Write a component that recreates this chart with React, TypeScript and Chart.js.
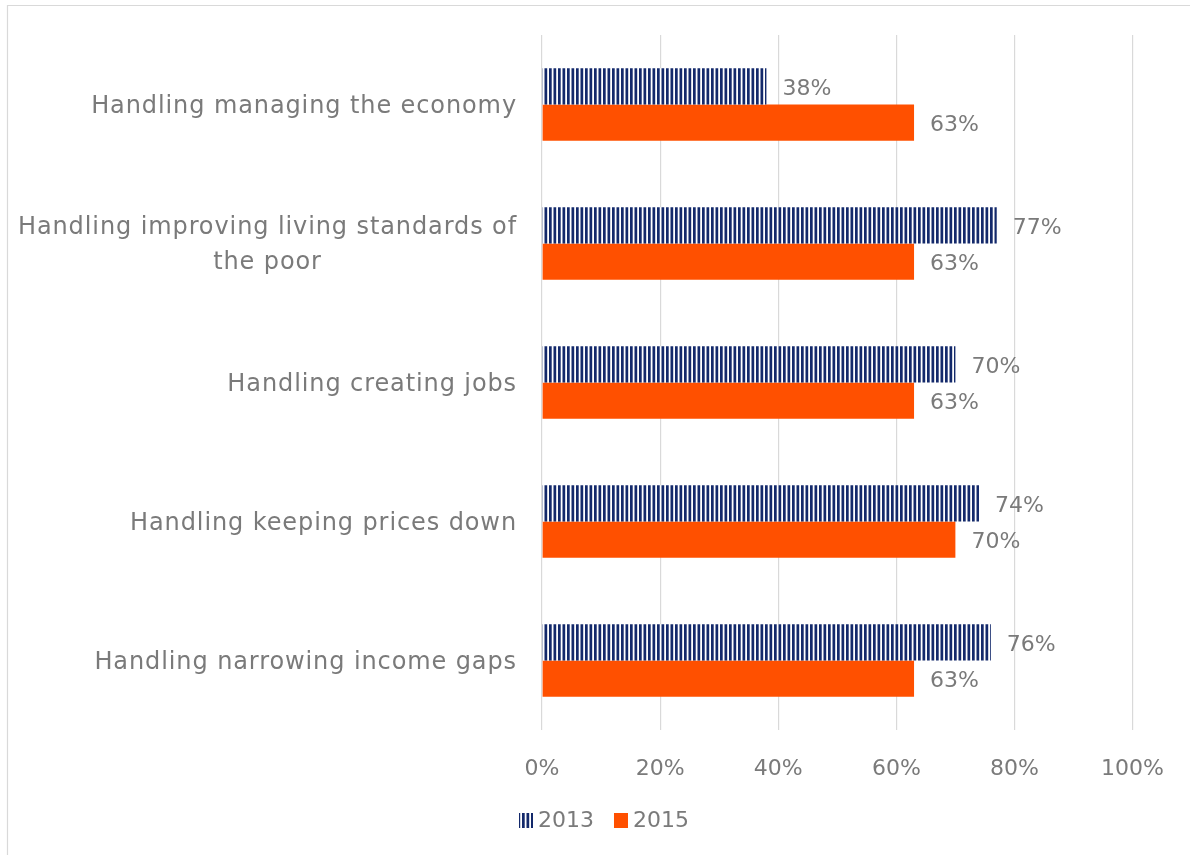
import React, { useEffect, useRef } from 'react';
import { Chart, registerables } from 'chart.js';

Chart.register(...registerables);

const categories: string[][] = [
  ['Handling managing the economy'],
  ['Handling improving living standards of', 'the poor'],
  ['Handling creating jobs'],
  ['Handling keeping prices down'],
  ['Handling narrowing income gaps'],
];
const seriesNames = ['2013', '2015'];
const values2013 = [38, 77, 70, 74, 76];
const values2015 = [63, 63, 63, 70, 63];
const xMin = 0;
const xMax = 100;
const xStep = 20;

const NAVY = '#13296b';
const ORANGE = '#FF5000';
const TEXT = '#7a7a7a';
const GRID = '#d9d9d9';
const FONT = '"DejaVu Sans", sans-serif';

function stripePattern(ctx: CanvasRenderingContext2D): CanvasPattern | string {
  const c = document.createElement('canvas');
  c.width = 9;
  c.height = 9;
  const g = c.getContext('2d');
  if (!g) return NAVY;
  g.fillStyle = '#ffffff';
  g.fillRect(0, 0, 9, 9);
  g.fillStyle = NAVY;
  g.fillRect(0, 0, 2.7, 9);
  g.fillRect(4.5, 0, 2.7, 9);
  return ctx.createPattern(c, 'repeat') || NAVY;
}

export default function App() {
  const ref = useRef<HTMLCanvasElement | null>(null);

  useEffect(() => {
    const canvas = ref.current;
    if (!canvas) return;
    const ctx = canvas.getContext('2d');
    if (!ctx) return;
    const pattern = stripePattern(ctx);

    const borderPlugin = {
      id: 'frame',
      beforeDraw(chart: any) {
        const c = chart.ctx;
        c.save();
        c.fillStyle = '#ffffff';
        c.fillRect(0, 0, chart.width, chart.height);
        c.strokeStyle = GRID;
        c.lineWidth = 1.2;
        c.beginPath();
        c.moveTo(7.5, chart.height + 5);
        c.lineTo(7.5, 5.5);
        c.lineTo(chart.width + 5, 5.5);
        c.stroke();
        c.restore();
      },
    };

    const yLabelsPlugin = {
      id: 'yLabels',
      afterDraw(chart: any) {
        const c = chart.ctx;
        const ys = chart.scales.y;
        const right = chart.chartArea.left - 25;
        c.save();
        c.font = `24px ${FONT}`;
        (c as any).letterSpacing = '0.9px';
        c.fillStyle = TEXT;
        c.textBaseline = 'middle';
        categories.forEach((lines, i) => {
          const cy = ys.getPixelForValue(i) + 2;
          const lh = 35;
          const widths = lines.map((l) => c.measureText(l).width);
          const maxW = Math.max(...widths);
          const center = right - maxW / 2;
          lines.forEach((line, j) => {
            const y = cy + (j - (lines.length - 1) / 2) * lh;
            c.textAlign = 'center';
            c.fillText(line, center, y);
          });
        });
        c.restore();
      },
    };

    const dataLabelsPlugin = {
      id: 'dataLabels',
      afterDatasetsDraw(chart: any) {
        const c = chart.ctx;
        c.save();
        c.font = `22px ${FONT}`;
        c.fillStyle = TEXT;
        c.textAlign = 'left';
        c.textBaseline = 'middle';
        chart.data.datasets.forEach((ds: any, di: number) => {
          const meta = chart.getDatasetMeta(di);
          meta.data.forEach((el: any, i: number) => {
            c.fillText(ds.data[i] + '%', el.x + 16, el.y + 3);
          });
        });
        c.restore();
      },
    };

    const legendPlugin = {
      id: 'customLegend',
      afterDraw(chart: any) {
        const c = chart.ctx;
        c.save();
        c.font = `22px ${FONT}`;
        c.textBaseline = 'middle';
        c.textAlign = 'left';
        const y = chart.chartArea.bottom + 91;
        let x = 519;
        chart.data.datasets.forEach((ds: any) => {
          c.fillStyle = ds.backgroundColor;
          c.fillRect(x, y - 8, 14, 15);
          c.fillStyle = TEXT;
          c.fillText(ds.label, x + 19, y);
          x += 19 + c.measureText(ds.label).width + 20;
        });
        c.restore();
      },
    };

    const chart = new Chart(ctx, {
      type: 'bar',
      data: {
        labels: categories,
        datasets: [
          {
            label: seriesNames[0],
            data: values2013,
            backgroundColor: pattern as any,
            categoryPercentage: 0.52,
            barPercentage: 1,
          },
          {
            label: seriesNames[1],
            data: values2015,
            backgroundColor: ORANGE,
            categoryPercentage: 0.52,
            barPercentage: 1,
          },
        ],
      },
      options: {
        indexAxis: 'y',
        responsive: false,
        animation: false,
        layout: { padding: { top: 35, right: 55, left: 0, bottom: 65 } },
        plugins: {
          legend: { display: false },
          tooltip: { enabled: false },
        },
        scales: {
          x: {
            min: xMin,
            max: xMax,
            border: { display: false },
            grid: { color: GRID, lineWidth: 1.2, drawTicks: false },
            ticks: {
              stepSize: xStep,
              padding: 26,
              color: TEXT,
              font: { family: FONT, size: 22 },
              callback: (v: any) => v + '%',
            },
            afterFit: (s: any) => {
              s.height = 60;
            },
          },
          y: {
            border: { display: false },
            grid: { display: false },
            ticks: { display: false },
            afterFit: (s: any) => {
              s.width = 542;
            },
          },
        },
      },
      plugins: [borderPlugin, yLabelsPlugin, dataLabelsPlugin, legendPlugin],
    });

    return () => chart.destroy();
  }, []);

  return (
    <div style={{ position: 'fixed', left: 0, top: 0, width: 1190, height: 855, background: '#fff' }}>
      <canvas ref={ref} width={1190} height={855} style={{ display: 'block' }} />
    </div>
  );
}
